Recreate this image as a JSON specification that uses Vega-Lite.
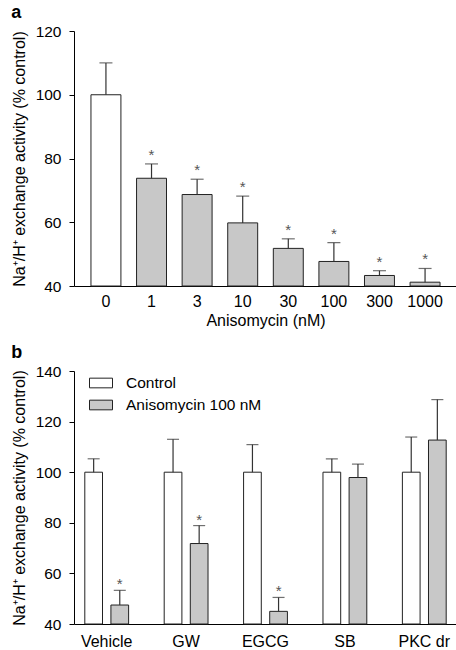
{
  "$schema": "https://vega.github.io/schema/vega-lite/v6.json",
  "padding": {"left": 11, "top": 4, "right": 0, "bottom": 0},
  "config": {
    "font": "Liberation Sans",
    "view": {"stroke": null},
    "axis": {
      "grid": false,
      "labelFontSize": 15.5,
      "labelColor": "#000000",
      "titleFontSize": 16,
      "titleFontWeight": "normal",
      "titleColor": "#000000",
      "domainColor": "#000000",
      "tickColor": "#000000",
      "tickSize": 5,
      "labelPadding": 3
    },
    "title": {"fontSize": 18, "fontWeight": "bold", "color": "#000000", "anchor": "start", "frame": "bounds", "offset": 2}
  },
  "resolve": {"scale": {"fill": "independent"}, "legend": {"fill": "independent"}},
  "spacing": 16,
  "vconcat": [
    {
      "width": 383,
      "height": 255,
      "title": {"text": "a"},
      "data": {"values": [
        {"conc": "0", "type": "Control", "value": 100, "err": 110, "star": false},
        {"conc": "1", "type": "Anisomycin", "value": 73.8, "err": 78.3, "star": true},
        {"conc": "3", "type": "Anisomycin", "value": 68.7, "err": 73.5, "star": true},
        {"conc": "10", "type": "Anisomycin", "value": 59.8, "err": 68.2, "star": true},
        {"conc": "30", "type": "Anisomycin", "value": 51.8, "err": 54.8, "star": true},
        {"conc": "100", "type": "Anisomycin", "value": 47.7, "err": 53.6, "star": true},
        {"conc": "300", "type": "Anisomycin", "value": 43.3, "err": 44.8, "star": true},
        {"conc": "1000", "type": "Anisomycin", "value": 41.2, "err": 45.5, "star": true}
      ]},
      "encoding": {
        "x": {
          "field": "conc",
          "type": "nominal",
          "sort": ["0", "1", "3", "10", "30", "100", "300", "1000"],
          "scale": {"paddingInner": 0.343, "paddingOuter": 0.372},
          "axis": {"title": "Anisomycin (nM)", "labelAngle": 0, "ticks": false, "labelPadding": 7, "titlePadding": 3, "labelFontSize": 16}
        }
      },
      "layer": [
        {
          "mark": {"type": "bar", "stroke": "#222222", "strokeWidth": 1},
          "encoding": {
            "y": {"field": "value", "type": "quantitative", "title": "Na⁺/H⁺ exchange activity (% control)",
                  "scale": {"domain": [40, 120], "nice": false, "zero": false},
                  "axis": {"values": [40, 60, 80, 100, 120], "titlePadding": 8, "labelPadding": 8}},
            "y2": {"datum": 40},
            "fill": {"field": "type", "type": "nominal",
                     "scale": {"domain": ["Control", "Anisomycin"], "range": ["#ffffff", "#c8c8c8"]},
                     "legend": null}
          }
        },
        {
          "mark": {"type": "rule", "color": "#333333", "strokeWidth": 1.2},
          "encoding": {
            "y": {"field": "value", "type": "quantitative", "title": "Na⁺/H⁺ exchange activity (% control)"},
            "y2": {"field": "err"}
          }
        },
        {
          "mark": {"type": "tick", "color": "#333333", "size": 13, "thickness": 1.2},
          "encoding": {
            "y": {"field": "err", "type": "quantitative", "title": "Na⁺/H⁺ exchange activity (% control)"}
          }
        },
        {
          "transform": [{"filter": "datum.star"}],
          "mark": {"type": "text", "text": "*", "fontSize": 15, "color": "#555555", "baseline": "alphabetic", "dy": -4},
          "encoding": {
            "y": {"field": "err", "type": "quantitative", "title": "Na⁺/H⁺ exchange activity (% control)"}
          }
        }
      ]
    },
    {
      "width": 383,
      "height": 253,
      "title": {"text": "b"},
      "data": {"values": [
        {"group": "Vehicle", "treat": "Control", "value": 100, "err": 105.3, "star": false},
        {"group": "Vehicle", "treat": "Anisomycin 100 nM", "value": 47.5, "err": 53.3, "star": true},
        {"group": "GW", "treat": "Control", "value": 100, "err": 113, "star": false},
        {"group": "GW", "treat": "Anisomycin 100 nM", "value": 71.8, "err": 78.9, "star": true},
        {"group": "EGCG", "treat": "Control", "value": 100, "err": 110.9, "star": false},
        {"group": "EGCG", "treat": "Anisomycin 100 nM", "value": 45, "err": 50.5, "star": true},
        {"group": "SB", "treat": "Control", "value": 100, "err": 105.3, "star": false},
        {"group": "SB", "treat": "Anisomycin 100 nM", "value": 97.9, "err": 103.2, "star": false},
        {"group": "PKC dr", "treat": "Control", "value": 100, "err": 113.9, "star": false},
        {"group": "PKC dr", "treat": "Anisomycin 100 nM", "value": 112.7, "err": 128.7, "star": false}
      ]},
      "encoding": {
        "x": {
          "field": "group",
          "type": "nominal",
          "sort": ["Vehicle", "GW", "EGCG", "SB", "PKC dr"],
          "scale": {"paddingInner": 0.448, "paddingOuter": 0.136},
          "axis": {"title": null, "labelAngle": 0, "ticks": false, "labelPadding": 9, "labelFontSize": 16}
        },
        "xOffset": {
          "field": "treat",
          "type": "nominal",
          "sort": ["Control", "Anisomycin 100 nM"],
          "scale": {"paddingInner": 0.322, "paddingOuter": 0}
        }
      },
      "layer": [
        {
          "mark": {"type": "bar", "stroke": "#222222", "strokeWidth": 1},
          "encoding": {
            "y": {"field": "value", "type": "quantitative", "title": "Na⁺/H⁺ exchange activity (% control)",
                  "scale": {"domain": [40, 140], "nice": false, "zero": false},
                  "axis": {"values": [40, 60, 80, 100, 120, 140], "titlePadding": 8, "labelPadding": 8}},
            "y2": {"datum": 40},
            "fill": {"field": "treat", "type": "nominal",
                     "scale": {"domain": ["Control", "Anisomycin 100 nM"], "range": ["#ffffff", "#c8c8c8"]},
                     "legend": {
                       "title": null,
                       "orient": "none",
                       "legendX": 15,
                       "legendY": 0,
                       "symbolType": "M-1,-0.42H1V0.42H-1Z",
                       "symbolSize": 529,
                       "symbolStrokeColor": "#222222",
                       "symbolStrokeWidth": 1,
                       "symbolOpacity": 1,
                       "labelFontSize": 15.5,
                       "labelColor": "#000000",
                       "labelOffset": 13,
                       "rowPadding": 1
                     }}
          }
        },
        {
          "mark": {"type": "rule", "color": "#333333", "strokeWidth": 1.2},
          "encoding": {
            "y": {"field": "value", "type": "quantitative", "title": "Na⁺/H⁺ exchange activity (% control)"},
            "y2": {"field": "err"}
          }
        },
        {
          "mark": {"type": "tick", "color": "#333333", "size": 12, "thickness": 1.2},
          "encoding": {
            "y": {"field": "err", "type": "quantitative", "title": "Na⁺/H⁺ exchange activity (% control)"}
          }
        },
        {
          "transform": [{"filter": "datum.star"}],
          "mark": {"type": "text", "text": "*", "fontSize": 15, "color": "#555555", "baseline": "alphabetic", "dy": -1},
          "encoding": {
            "y": {"field": "err", "type": "quantitative", "title": "Na⁺/H⁺ exchange activity (% control)"}
          }
        }
      ]
    }
  ]
}
